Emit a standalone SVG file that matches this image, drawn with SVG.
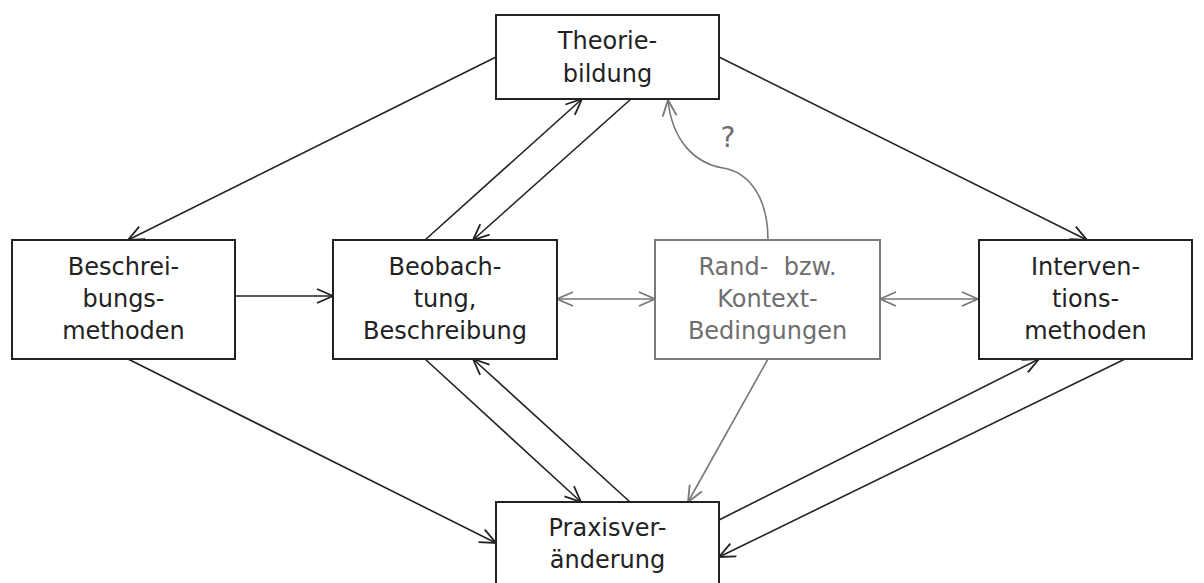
<svg xmlns="http://www.w3.org/2000/svg" width="1204" height="583" viewBox="0 0 1204 583">
<defs>
<style>
.box{fill:#fff;stroke:#222;stroke-width:2}
.gbox{fill:#fff;stroke:#7a7a7a;stroke-width:2}
.t{font-family:"DejaVu Sans",Verdana,sans-serif;font-size:24px;fill:#222;text-anchor:middle}
.gt{fill:#6e6e6e}
.c{fill:none;stroke:#222;stroke-width:1.6}
.gc{fill:none;stroke:#777;stroke-width:1.6}
</style>
<marker id="a" viewBox="0 0 18 16" refX="17" refY="8" markerWidth="18" markerHeight="16" markerUnits="userSpaceOnUse" orient="auto-start-reverse">
<path d="M1,1 L17,8 L1,15" fill="none" stroke="#222" stroke-width="1.8"/>
</marker>
<marker id="g" viewBox="0 0 18 16" refX="17" refY="8" markerWidth="18" markerHeight="16" markerUnits="userSpaceOnUse" orient="auto-start-reverse">
<path d="M1,1 L17,8 L1,15" fill="none" stroke="#777" stroke-width="1.8"/>
</marker>
</defs>
<rect width="1204" height="583" fill="#fff"/>
<g id="connectors">
<line class="c" x1="496" y1="57" x2="128" y2="240" marker-end="url(#a)"/>
<line class="c" x1="719" y1="57" x2="1087" y2="240" marker-end="url(#a)"/>
<line class="c" x1="425" y1="240" x2="582" y2="99" marker-end="url(#a)"/>
<line class="c" x1="631" y1="99" x2="473" y2="240" marker-end="url(#a)"/>
<line class="c" x1="235" y1="296" x2="333" y2="296" marker-end="url(#a)"/>
<line class="gc" x1="557" y1="299" x2="655" y2="299" marker-start="url(#g)" marker-end="url(#g)"/>
<line class="gc" x1="880" y1="299" x2="978" y2="299" marker-start="url(#g)" marker-end="url(#g)"/>
<path class="gc" d="M768,240 C768,196 748,172 723,168 C694,163 672,140 668,100" marker-end="url(#g)"/>
<line class="c" x1="128" y1="359" x2="496" y2="543" marker-end="url(#a)"/>
<line class="c" x1="425" y1="359" x2="581" y2="502" marker-end="url(#a)"/>
<line class="c" x1="630" y1="502" x2="473" y2="359" marker-end="url(#a)"/>
<line class="gc" x1="768" y1="359" x2="688" y2="502" marker-end="url(#g)"/>
<line class="c" x1="719" y1="520" x2="1039" y2="359" marker-end="url(#a)"/>
<line class="c" x1="1125" y1="359" x2="719" y2="557" marker-end="url(#a)"/>
</g>
<g id="theorie">
<rect class="box" x="496" y="15" width="223" height="84"/>
<text class="t" x="607.5" y="49">Theorie-</text>
<text class="t" x="607.5" y="82">bildung</text>
</g>
<g id="beschreibungsmethoden">
<rect class="box" x="12" y="240" width="223" height="119"/>
<text class="t" x="123.5" y="275">Beschrei-</text>
<text class="t" x="123.5" y="307">bungs-</text>
<text class="t" x="123.5" y="339">methoden</text>
</g>
<g id="beobachtung">
<rect class="box" x="333" y="240" width="224" height="119"/>
<text class="t" x="445" y="275">Beobach-</text>
<text class="t" x="445" y="307">tung,</text>
<text class="t" x="445" y="339">Beschreibung</text>
</g>
<g id="rand">
<rect class="gbox" x="655" y="240" width="225" height="119"/>
<text class="t gt" x="767.5" y="275" xml:space="preserve">Rand-  bzw.</text>
<text class="t gt" x="767.5" y="307">Kontext-</text>
<text class="t gt" x="767.5" y="339">Bedingungen</text>
</g>
<g id="interventionsmethoden">
<rect class="box" x="979" y="240" width="213" height="119"/>
<text class="t" x="1085.5" y="275">Interven-</text>
<text class="t" x="1085.5" y="307">tions-</text>
<text class="t" x="1085.5" y="339">methoden</text>
</g>
<g id="praxis">
<rect class="box" x="496" y="502" width="223" height="90"/>
<text class="t" x="607.5" y="536">Praxisver-</text>
<text class="t" x="607.5" y="568">änderung</text>
</g>
<g id="question">
<text class="t gt" x="728" y="147" style="font-size:28px">?</text>
</g>
</svg>
